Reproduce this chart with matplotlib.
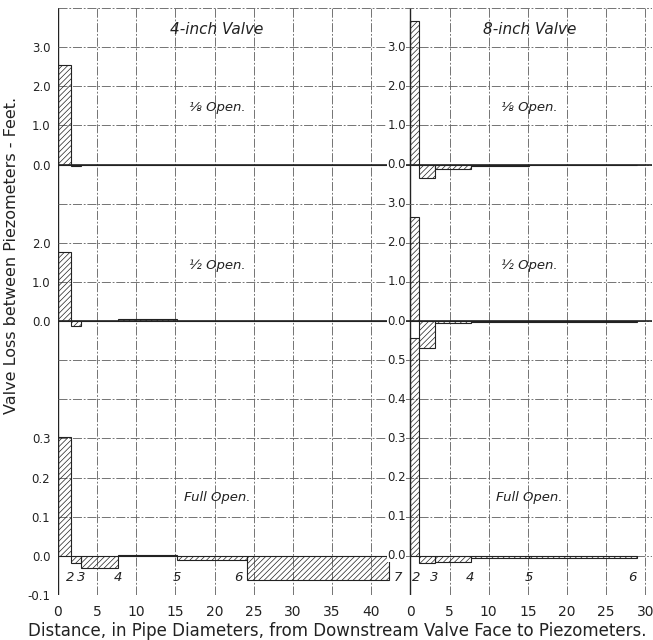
import matplotlib
matplotlib.use("Agg")
import matplotlib.pyplot as plt
import numpy as np

# ---------------- data ----------------
# 4-inch valve: piezometer interval edges (pipe diameters) and loss per interval (ft)
four_edges = [0, 1.6, 3.0, 7.7, 15.2, 24.1, 42.3]
four_eighth = [2.55, -0.04, 0.0, 0.0, 0.0, 0.0]
four_half = [1.77, -0.13, 0.0, 0.05, 0.0, 0.0]
four_full = [0.305, -0.017, -0.030, 0.003, -0.010, -0.061]
four_piezo_labels = ["2", "3", "4", "5", "6", "7"]
four_piezo_x = [1.5, 2.9, 7.6, 15.2, 23.0, 43.4]

# 8-inch valve
eight_edges = [0, 1.1, 3.2, 7.7, 15.2, 29.0]
eight_eighth = [3.67, -0.34, -0.11, -0.03, -0.01]
eight_half = [2.67, -0.70, -0.04, -0.03, -0.03]
eight_full = [0.557, -0.019, -0.015, -0.005, -0.005]
eight_piezo_labels = ["2", "3", "4", "5", "6"]
eight_piezo_x = [0.8, 3.1, 7.6, 15.2, 28.4]

# tick values
four_x_ticks = [0, 5, 10, 15, 20, 25, 30, 35, 40]
eight_x_ticks = [0, 5, 10, 15, 20, 25, 30]
eighth_y_ticks = [0.0, 1.0, 2.0, 3.0]
half_y_ticks_left = [0.0, 1.0, 2.0]
half_y_ticks_right = [0.0, 1.0, 2.0, 3.0]
full_y_ticks_left = [-0.1, 0.0, 0.1, 0.2, 0.3]
full_y_ticks_right = [0.0, 0.1, 0.2, 0.3, 0.4, 0.5]

# ---------------- layout ----------------
W, H = 653, 640
fig = plt.figure(figsize=(W / 100, H / 100), dpi=100)
fig.patch.set_facecolor("white")
box = [58 / W, 45 / H, 594 / W, 587 / H]
PX = 7.83                 # pixels per pipe diameter
XMAX = 594 / PX
RIGHT_OFF = 45            # right panel's origin in left-panel units

INK = "#222222"
GRID = "#6a6a6a"
plt.rcParams["hatch.linewidth"] = 0.5

# background grid
bg = fig.add_axes(box)
bg.set_xlim(0, XMAX)
bg.set_ylim(-15, 0)
bg.axis("off")
for x in range(0, 80, 5):
    if x <= XMAX:
        solid = x in (0, RIGHT_OFF)
        bg.axvline(x, color=INK if solid else GRID, lw=1.0 if solid else 0.65,
                   ls="-" if solid else (0, (10, 2, 2, 2)), zorder=1)
for k in range(0, 16):
    bg.axhline(-k, color=GRID, lw=0.65, ls=(0, (10, 2, 2, 2)), zorder=1)


def make_ax(xoff, ylim):
    ax = fig.add_axes(box)
    ax.set_xlim(-xoff, XMAX - xoff)
    ax.set_ylim(*ylim)
    ax.patch.set_visible(False)
    for s in ax.spines.values():
        s.set_visible(False)
    ax.set_xticks([])
    ax.set_yticks([])
    ax.tick_params(length=0, labelsize=8.5, colors=INK, pad=5.5)
    return ax


def bars(ax, edges, vals):
    e = np.array(edges)
    ax.bar(e[:-1], vals, width=np.diff(e), align="edge", facecolor="none",
           edgecolor=INK, hatch="//////", linewidth=0.8, zorder=3)


lim_eighth = (-11, 4)
lim_half = (-7, 8)
lim_full = (-0.1, 1.4)

# ----- left column: 4-inch valve -----
a1 = make_ax(0, lim_eighth)
a2 = make_ax(0, lim_half)
a3 = make_ax(0, lim_full)
for ax, vals in ((a1, four_eighth), (a2, four_half), (a3, four_full)):
    bars(ax, four_edges, vals)
a1.hlines(0, 0, RIGHT_OFF, color=INK, lw=1.2, zorder=2)
a2.hlines(0, 0, RIGHT_OFF, color=INK, lw=1.2, zorder=2)

a1.set_yticks(eighth_y_ticks, [f"{v:.1f}" for v in eighth_y_ticks])
a2.set_yticks(half_y_ticks_left, [f"{v:.1f}" for v in half_y_ticks_left])
a3.set_yticks(full_y_ticks_left, [f"{v:.1f}" for v in full_y_ticks_left])
a3.set_xticks(four_x_ticks, [str(v) for v in four_x_ticks])
a3.tick_params(axis="x", labelsize=10, pad=7)

# ----- right column: 8-inch valve -----
b1 = make_ax(RIGHT_OFF, lim_eighth)
b2 = make_ax(RIGHT_OFF, lim_half)
b3 = make_ax(RIGHT_OFF, lim_full)
for ax, vals in ((b1, eight_eighth), (b2, eight_half), (b3, eight_full)):
    bars(ax, eight_edges, vals)
b1.hlines(0, 0, XMAX - RIGHT_OFF, color=INK, lw=1.2, zorder=2)
b2.hlines(0, 0, XMAX - RIGHT_OFF, color=INK, lw=1.2, zorder=2)
b3.set_xticks(eight_x_ticks, [str(v) for v in eight_x_ticks])
b3.tick_params(axis="x", labelsize=10, pad=7)

for ax, ticks in ((b1, eighth_y_ticks), (b2, half_y_ticks_right), (b3, full_y_ticks_right)):
    for v in ticks:
        ax.text(-0.55, v, f"{v:.1f}", ha="right", va="center", fontsize=8.5,
                color=INK, zorder=4,
                bbox=dict(facecolor="white", edgecolor="none", pad=0.1))

# panel titles and open labels
tkw = dict(ha="center", va="center", style="italic", color=INK, zorder=5)
a1.text(20.3, 3.45, "4-inch Valve", fontsize=11, **tkw)
b1.text(15.2, 3.45, "8-inch Valve", fontsize=11, **tkw)
a1.text(20.4, 1.46, "⅛ Open.", fontsize=9.5, **tkw)
b1.text(15.2, 1.46, "⅛ Open.", fontsize=9.5, **tkw)
a2.text(20.4, 1.43, "½ Open.", fontsize=9.5, **tkw)
b2.text(15.2, 1.43, "½ Open.", fontsize=9.5, **tkw)
a3.text(20.4, 0.150, "Full Open.", fontsize=9.5, **tkw)
b3.text(15.2, 0.148, "Full Open.", fontsize=9.5, **tkw)

# piezometer numbers
for x, lab in zip(four_piezo_x, four_piezo_labels):
    a3.text(x, -0.056, lab, fontsize=9.5, **tkw)
for x, lab in zip(eight_piezo_x, eight_piezo_labels):
    b3.text(x, -0.056, lab, fontsize=9.5, **tkw)

# axis titles
fig.text(12 / W, 1 - 255 / H, "Valve Loss between Piezometers - Feet.",
         rotation=90, ha="center", va="center", fontsize=11.5, color=INK)
fig.text(337 / W, 1 - 631 / H,
         "Distance, in Pipe Diameters, from Downstream Valve Face to Piezometers.",
         ha="center", va="center", fontsize=12, color=INK)

fig.savefig("out.png", dpi=100, facecolor="white")
